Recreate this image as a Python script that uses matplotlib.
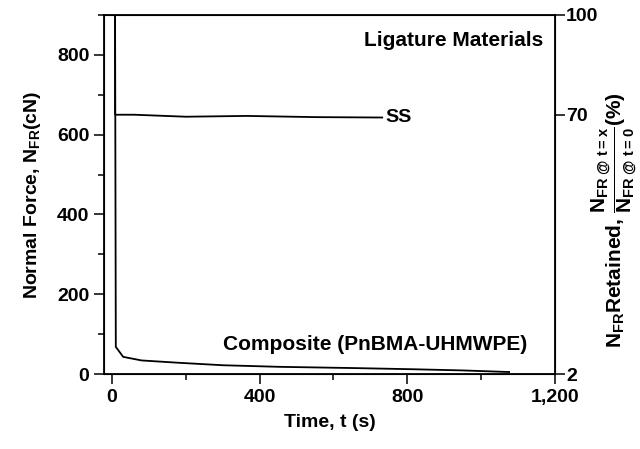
import numpy as np
import matplotlib
matplotlib.use('Agg')
import matplotlib.pyplot as plt
from matplotlib.ticker import MultipleLocator

plt.rcParams['font.family'] = 'Liberation Sans'
plt.rcParams['font.weight'] = 'bold'
plt.rcParams['mathtext.fontset'] = 'custom'
plt.rcParams['mathtext.rm'] = 'Liberation Sans:bold'
plt.rcParams['mathtext.it'] = 'Liberation Sans:bold'
plt.rcParams['mathtext.bf'] = 'Liberation Sans:bold'

# datos
t_ss = [8, 8, 60, 200, 365, 550, 732]
n_ss = [900, 650, 650, 645, 647, 644, 643]

t_comp = [8, 10, 30, 80, 184, 300, 454, 650, 814, 950, 1076]
n_comp = [900, 68, 43, 34, 28, 22, 18, 15, 12, 9, 5]

x_ticks = [0, 400, 800, 1200]
x_labels = ['0', '400', '800', '1,200']
right_pos = [0, 650, 900]
right_labels = ['2', '70', '100']

fs = 14

fig = plt.figure(figsize=(6.4, 4.49), dpi=100)
ax = fig.add_axes([0.1625, 0.167, 0.7045, 0.7996])

ax.plot(t_ss, n_ss, color='black', lw=1.3)
ax.plot(t_comp, n_comp, color='black', lw=1.3)

ax.set_xlim(-22, 1200)
ax.set_ylim(0, 900)
ax.set_xticks(x_ticks)
ax.set_xticklabels(x_labels)
ax.xaxis.set_minor_locator(MultipleLocator(200))
ax.yaxis.set_major_locator(MultipleLocator(200))
ax.yaxis.set_minor_locator(MultipleLocator(100))
ax.tick_params(which='both', direction='out', width=1.1, labelsize=fs)
ax.tick_params(which='major', length=7)
ax.tick_params(which='minor', length=4)
for s in ax.spines.values():
    s.set_linewidth(1.3)

ax.set_xlabel('Time, t (s)', fontsize=fs, fontweight='bold', labelpad=6)
ax.set_ylabel(r'Normal Force, N$_{FR}$(cN)', fontsize=fs, fontweight='bold', labelpad=10)

ax2 = ax.twinx()
ax2.set_ylim(0, 900)
ax2.set_yticks(right_pos)
ax2.set_yticklabels(right_labels)
ax2.tick_params(direction='out', length=7, width=1.1, labelsize=fs, pad=1)

ax.text(0.975, 0.955, 'Ligature Materials', transform=ax.transAxes, ha='right', va='top',
        fontsize=15, fontweight='bold')
ax.text(740, 643, 'SS', ha='left', va='center', fontsize=fs, fontweight='bold')
ax.text(0.938, 0.055, 'Composite (PnBMA-UHMWPE)', transform=ax.transAxes, ha='right', va='bottom',
        fontsize=15, fontweight='bold')

fig.text(0.9595, 0.51,
         r'N$_{FR}$Retained, $\dfrac{N_{FR\ @\ t=x}}{N_{FR\ @\ t=0}}$(%)',
         rotation=90, ha='center', va='center', fontsize=15, fontweight='bold')

plt.savefig('out.png', dpi=100)
